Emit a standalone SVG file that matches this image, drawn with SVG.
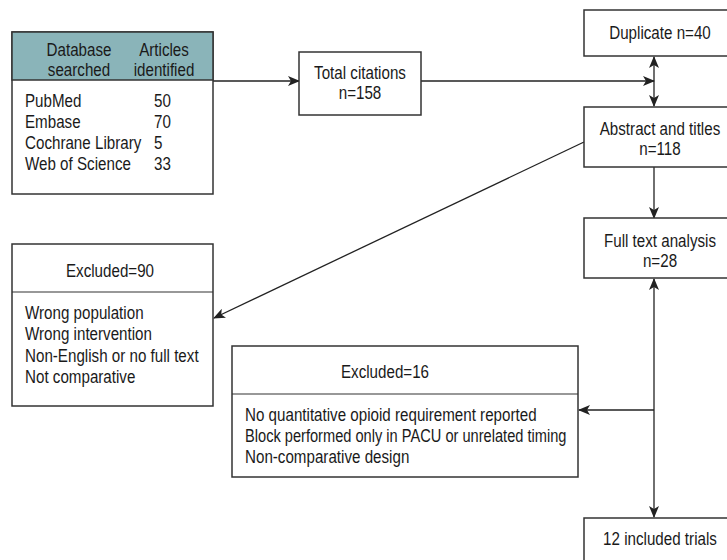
<svg xmlns="http://www.w3.org/2000/svg" width="727" height="560" viewBox="0 0 727 560">
<defs>
<style>
text{font-family:"Liberation Sans",Arial,sans-serif;font-size:18.5px;fill:#1a1a1a}
.c{text-anchor:middle}
.box{fill:#fff;stroke:#333;stroke-width:1.5}
.hdr{fill:#8ab4b9;stroke:#333;stroke-width:1.5}
.sep{stroke:#333;stroke-width:1.2}
.ln{fill:none;stroke:#222;stroke-width:1.3}
</style>
<marker id="ah" viewBox="0 0 12 10" refX="11" refY="5" markerWidth="12" markerHeight="10" markerUnits="userSpaceOnUse" orient="auto-start-reverse">
<path d="M0,0 L12,5 L0,10 L3,5 z" fill="#222"/>
</marker>
</defs>
<rect width="727" height="560" fill="#fff"/>
<g id="connectors">
<line class="ln" x1="213" y1="81" x2="299" y2="81" marker-end="url(#ah)"/>
<line class="ln" x1="421" y1="81" x2="654" y2="81" marker-end="url(#ah)"/>
<line class="ln" x1="654" y1="57" x2="654" y2="106" marker-start="url(#ah)" marker-end="url(#ah)"/>
<line class="ln" x1="654" y1="167" x2="654" y2="218" marker-end="url(#ah)"/>
<line class="ln" x1="584" y1="142" x2="214" y2="318" marker-end="url(#ah)"/>
<line class="ln" x1="654" y1="279" x2="654" y2="517" marker-start="url(#ah)" marker-end="url(#ah)"/>
<line class="ln" x1="654" y1="410" x2="579" y2="410" marker-end="url(#ah)"/>
</g>
<g id="database">
<rect class="box" x="12" y="32" width="201" height="162"/>
<rect class="hdr" x="12" y="32" width="201" height="48"/>
<text class="c" transform="translate(79,55.5) scale(0.82,1)">Database</text>
<text class="c" transform="translate(79,76) scale(0.82,1)">searched</text>
<text class="c" transform="translate(164,55.5) scale(0.82,1)">Articles</text>
<text class="c" transform="translate(164,76) scale(0.82,1)">identified</text>
<text transform="translate(25,107) scale(0.82,1)">PubMed</text>
<text transform="translate(25,128) scale(0.82,1)">Embase</text>
<text transform="translate(25,149) scale(0.82,1)">Cochrane Library</text>
<text transform="translate(25,170) scale(0.82,1)">Web of Science</text>
<text transform="translate(154,107) scale(0.82,1)">50</text>
<text transform="translate(154,128) scale(0.82,1)">70</text>
<text transform="translate(154,149) scale(0.82,1)">5</text>
<text transform="translate(154,170) scale(0.82,1)">33</text>
</g>
<g id="total">
<rect class="box" x="299" y="52" width="122" height="63"/>
<text class="c" transform="translate(360,79) scale(0.82,1)">Total citations</text>
<text class="c" transform="translate(360,99) scale(0.82,1)">n=158</text>
</g>
<g id="duplicate">
<rect class="box" x="584" y="10" width="160" height="46"/>
<text class="c" transform="translate(660,38.5) scale(0.82,1)">Duplicate n=40</text>
</g>
<g id="abstract">
<rect class="box" x="584" y="107" width="160" height="60"/>
<text class="c" transform="translate(660,134.5) scale(0.82,1)">Abstract and titles</text>
<text class="c" transform="translate(660,154.5) scale(0.82,1)">n=118</text>
</g>
<g id="fulltext">
<rect class="box" x="584" y="218" width="160" height="60"/>
<text class="c" transform="translate(660,246.5) scale(0.82,1)">Full text analysis</text>
<text class="c" transform="translate(660,266.5) scale(0.82,1)">n=28</text>
</g>
<g id="excluded90">
<rect class="box" x="12" y="244" width="201" height="162"/>
<line class="sep" x1="12" y1="292" x2="213" y2="292"/>
<text class="c" transform="translate(110,276.5) scale(0.82,1)">Excluded=90</text>
<text transform="translate(25,318.5) scale(0.82,1)">Wrong population</text>
<text transform="translate(25,340) scale(0.82,1)">Wrong intervention</text>
<text transform="translate(25,361.5) scale(0.82,1)">Non-English or no full text</text>
<text transform="translate(25,383) scale(0.82,1)">Not comparative</text>
</g>
<g id="excluded16">
<rect class="box" x="232" y="346" width="346" height="131"/>
<line class="sep" x1="232" y1="394" x2="578" y2="394"/>
<text class="c" transform="translate(385,377.5) scale(0.82,1)">Excluded=16</text>
<text transform="translate(245,420.5) scale(0.82,1)">No quantitative opioid requirement reported</text>
<text transform="translate(245,441.5) scale(0.82,1)" textLength="392" lengthAdjust="spacingAndGlyphs">Block performed only in PACU or unrelated timing</text>
<text transform="translate(245,462.5) scale(0.82,1)">Non-comparative design</text>
</g>
<g id="included">
<rect class="box" x="584" y="518" width="160" height="60"/>
<text class="c" transform="translate(660,544.5) scale(0.82,1)">12 included trials</text>
</g>
</svg>
